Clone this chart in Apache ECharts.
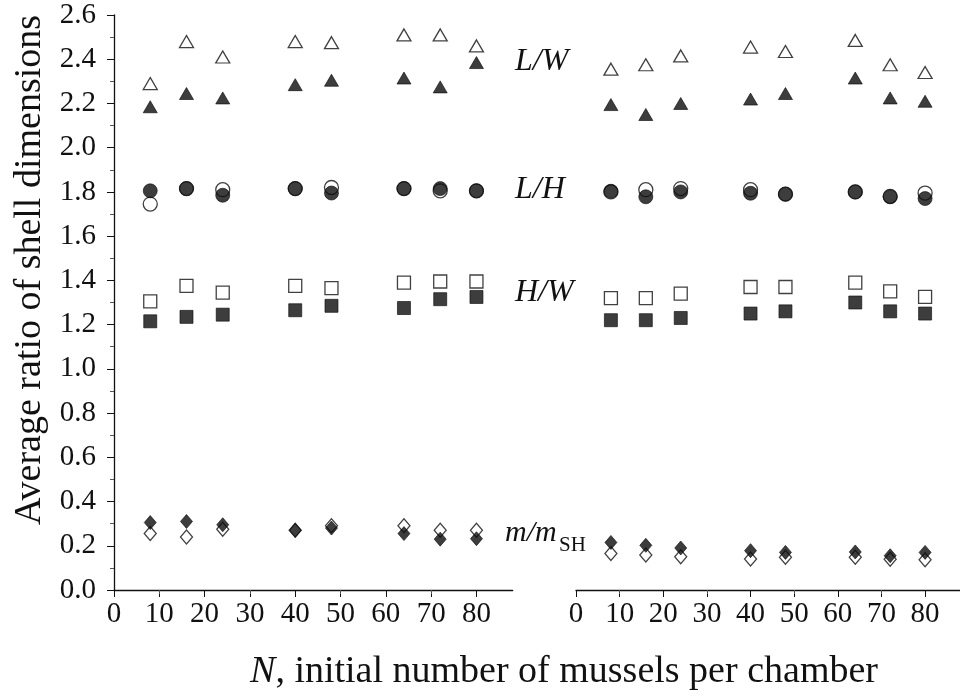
<!DOCTYPE html>
<html>
<head>
<meta charset="utf-8">
<script src="https://cdn.jsdelivr.net/npm/echarts@6/dist/echarts.min.js"></script>
<style>html,body{margin:0;padding:0;background:#fff;}#c{width:960px;height:696px;}</style>
</head>
<body>
<div id="c"></div>
<script>
// Initial number of mussels per chamber
const N = [8, 16, 24, 40, 48, 64, 72, 80];
const xTicks = [0, 10, 20, 30, 40, 50, 60, 70, 80];

// Left panel
const lwOpenL = [2.29, 2.48, 2.41, 2.48, 2.475, 2.51, 2.51, 2.46];
const lwFillL = [2.185, 2.245, 2.225, 2.285, 2.305, 2.315, 2.275, 2.385];
const lhOpenL = [1.745, 1.815, 1.81, 1.815, 1.82, 1.815, 1.805, 1.805];
const lhFillL = [1.805, 1.815, 1.785, 1.815, 1.795, 1.815, 1.815, 1.805];
const hwOpenL = [1.305, 1.375, 1.345, 1.375, 1.365, 1.39, 1.395, 1.395];
const hwFillL = [1.215, 1.235, 1.245, 1.265, 1.285, 1.275, 1.315, 1.325];
const mmOpenL = [0.255, 0.24, 0.275, 0.27, 0.29, 0.29, 0.27, 0.27];
const mmFillL = [0.305, 0.31, 0.295, 0.27, 0.28, 0.255, 0.23, 0.232];

// Right panel
const lwOpenR = [2.355, 2.375, 2.415, 2.455, 2.435, 2.485, 2.375, 2.34];
const lwFillR = [2.195, 2.15, 2.2, 2.22, 2.245, 2.315, 2.225, 2.21];
const lhOpenR = [1.80, 1.81, 1.815, 1.81, 1.79, 1.80, 1.78, 1.795];
const lhFillR = [1.803, 1.778, 1.80, 1.794, 1.79, 1.80, 1.778, 1.77];
const hwOpenR = [1.32, 1.32, 1.34, 1.37, 1.37, 1.39, 1.35, 1.325];
const hwFillR = [1.22, 1.22, 1.23, 1.25, 1.26, 1.30, 1.26, 1.25];
const mmOpenR = [0.165, 0.158, 0.15, 0.14, 0.148, 0.148, 0.139, 0.137];
const mmFillR = [0.215, 0.202, 0.19, 0.178, 0.17, 0.172, 0.155, 0.17];

const FONT = 'Liberation Serif';
const pair = (ys) => N.map((x, i) => [x, ys[i]]);

function ser(idx, ys, symbol, size, filled) {
  return {
    type: 'scatter', xAxisIndex: idx, yAxisIndex: idx,
    data: pair(ys), symbol: symbol, symbolSize: size,
    z: filled ? 3 : 2,
    itemStyle: filled ? { color: '#0d0d0d', borderColor: '#0d0d0d', borderWidth: 0.8 }
                      : { color: '#fff', borderColor: '#111', borderWidth: 1.3 },
    emphasis: { disabled: true }
  };
}

const tri = [14, 12], circ = 14, sq = 13, dia = [12, 14];

function xAx(idx) {
  return {
    type: 'value', gridIndex: idx, min: 0, max: 88,
    splitLine: { show: false },
    axisLine: { show: true, lineStyle: { color: '#111', width: 1.3 } },
    axisTick: { show: true, inside: false, length: 7, lineStyle: { color: '#111', width: 1 }, customValues: xTicks },
    minorTick: { show: true, splitNumber: 2, length: 4, lineStyle: { color: '#555', width: 1 } },
    axisLabel: { customValues: xTicks, margin: 10, color: '#111', fontFamily: FONT, fontSize: 29 }
  };
}

const chart = echarts.init(document.getElementById('c'), null, { renderer: 'canvas' });
chart.setOption({
  animation: false,
  backgroundColor: '#fff',
  grid: [
    { left: 114, top: 15, width: 398.7, height: 575 },
    { left: 576, top: 15, width: 397.5, height: 575 }
  ],
  xAxis: [xAx(0), xAx(1)],
  yAxis: [
    {
      type: 'value', gridIndex: 0, min: 0, max: 2.6, interval: 0.2,
      splitLine: { show: false },
      axisLine: { show: true, lineStyle: { color: '#111', width: 1.3 } },
      axisTick: { show: true, inside: false, length: 7, lineStyle: { color: '#111', width: 1 } },
      minorTick: { show: true, splitNumber: 2, length: 4, lineStyle: { color: '#555', width: 1 } },
      axisLabel: { margin: 18, color: '#111', fontFamily: FONT, fontSize: 29, formatter: v => v.toFixed(1) }
    },
    { type: 'value', gridIndex: 1, min: 0, max: 2.6, interval: 0.2, show: false }
  ],
  series: [
    ser(0, lwOpenL, 'triangle', tri, false), ser(0, lwFillL, 'triangle', tri, true),
    ser(0, lhOpenL, 'circle', circ, false), ser(0, lhFillL, 'circle', circ, true),
    ser(0, hwOpenL, 'rect', sq, false), ser(0, hwFillL, 'rect', sq, true),
    ser(0, mmOpenL, 'diamond', dia, false), ser(0, mmFillL, 'diamond', dia, true),
    ser(1, lwOpenR, 'triangle', tri, false), ser(1, lwFillR, 'triangle', tri, true),
    ser(1, lhOpenR, 'circle', circ, false), ser(1, lhFillR, 'circle', circ, true),
    ser(1, hwOpenR, 'rect', sq, false), ser(1, hwFillR, 'rect', sq, true),
    ser(1, mmOpenR, 'diamond', dia, false), ser(1, mmFillR, 'diamond', dia, true)
  ],
  graphic: [
    { type: 'text', x: 30, y: 270, rotation: Math.PI / 2,
      style: { text: 'Average ratio of shell dimensions', fill: '#111', font: '38px ' + FONT, align: 'center', verticalAlign: 'middle' } },
    { type: 'text', x: 564, y: 672,
      style: { text: '{i|N}, initial number of mussels per chamber', fill: '#111', font: '38px ' + FONT, align: 'center', verticalAlign: 'middle',
        rich: { i: { fontStyle: 'italic', fontFamily: FONT, fontSize: 38, fill: '#111' } } } },
    { type: 'text', x: 515, y: 62,
      style: { text: 'L/W', fill: '#111', font: 'italic 32px ' + FONT, align: 'left', verticalAlign: 'middle' } },
    { type: 'text', x: 515, y: 190,
      style: { text: 'L/H', fill: '#111', font: 'italic 32px ' + FONT, align: 'left', verticalAlign: 'middle' } },
    { type: 'text', x: 515, y: 293,
      style: { text: 'H/W', fill: '#111', font: 'italic 32px ' + FONT, align: 'left', verticalAlign: 'middle' } },
    { type: 'text', x: 505, y: 533,
      style: { text: 'm/m', fill: '#111', font: 'italic 30px ' + FONT, align: 'left', verticalAlign: 'middle' } },
    { type: 'text', x: 559, y: 545,
      style: { text: 'SH', fill: '#111', font: '21px ' + FONT, align: 'left', verticalAlign: 'middle' } }
  ]
});
</script>
</body>
</html>
